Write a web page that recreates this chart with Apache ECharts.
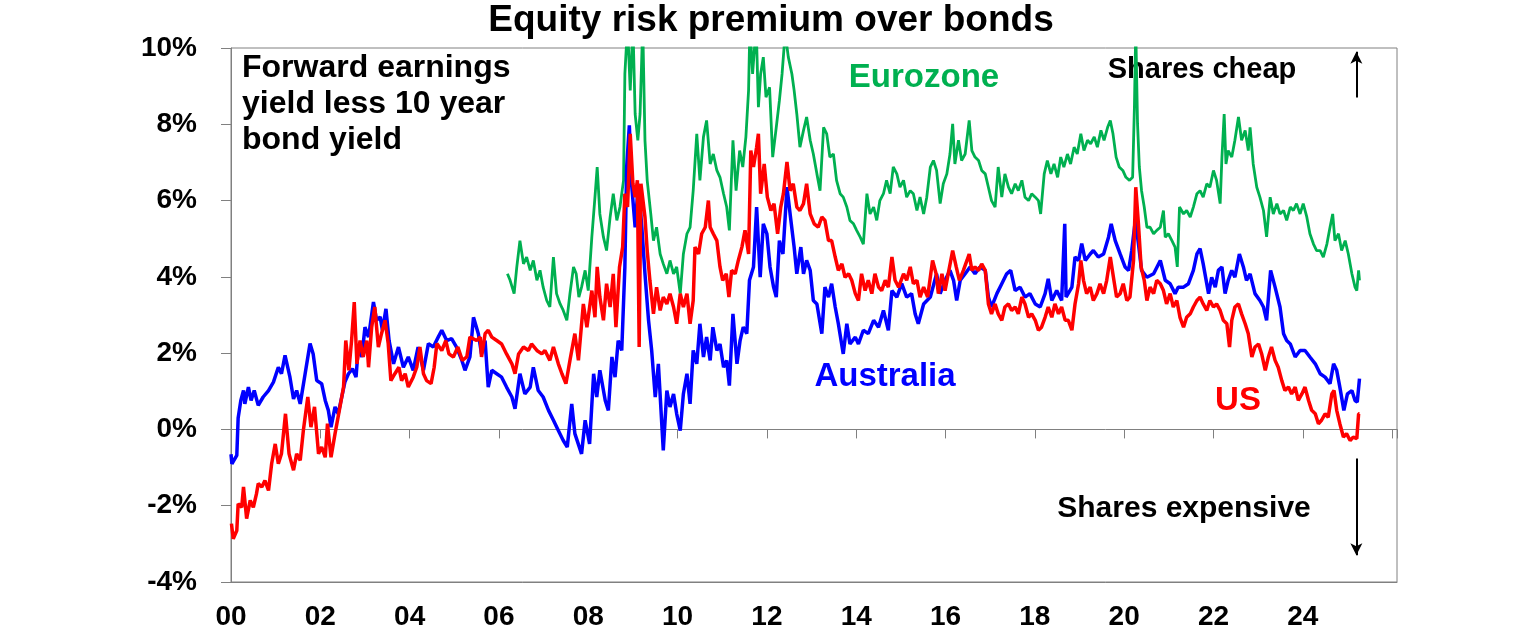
<!DOCTYPE html>
<html><head><meta charset="utf-8">
<script src="https://cdn.jsdelivr.net/npm/echarts@6/dist/echarts.min.js"></script>
<style>html,body{margin:0;padding:0;background:#fff}#c{width:1536px;height:641px}</style>
</head><body><div id="c"></div>
<script>
// ---- data ----
const xTickLabels = ['00','02','04','06','08','10','12','14','16','18','20','22','24'];
const ausYear = [2000.00,2000.02,2000.13,2000.16,2000.22,2000.28,2000.31,2000.39,2000.45,2000.52,2000.61,2000.72,2000.84,2000.95,2001.06,2001.13,2001.21,2001.32,2001.40,2001.47,2001.55,2001.66,2001.77,2001.84,2001.92,2002.03,2002.11,2002.18,2002.24,2002.33,2002.40,2002.48,2002.55,2002.63,2002.72,2002.80,2002.85,2002.93,2003.00,2003.08,2003.19,2003.26,2003.34,2003.39,2003.47,2003.54,2003.64,2003.75,2003.86,2003.97,2004.08,2004.19,2004.31,2004.42,2004.53,2004.64,2004.72,2004.83,2004.94,2005.05,2005.17,2005.24,2005.35,
2005.43,2005.54,2005.61,2005.69,2005.76,2005.84,2005.95,2006.06,2006.17,2006.29,2006.36,2006.47,2006.58,2006.70,2006.77,2006.88,2006.99,2007.11,2007.22,2007.33,2007.44,2007.53,2007.63,2007.70,2007.85,2007.93,2008.03,2008.12,2008.19,2008.26,2008.38,2008.45,2008.53,2008.60,2008.67,2008.75,2008.82,2008.86,2008.92,2008.97,2009.05,2009.12,2009.20,2009.27,2009.35,2009.42,2009.50,2009.57,2009.68,2009.76,2009.83,2009.91,2009.98,2010.06,2010.13,2010.21,
2010.28,2010.35,2010.43,2010.50,2010.58,2010.65,2010.73,2010.79,2010.88,2010.95,2011.03,2011.10,2011.16,2011.24,2011.33,2011.40,2011.47,2011.55,2011.61,2011.70,2011.77,2011.85,2011.92,2012.00,2012.07,2012.15,2012.21,2012.28,2012.36,2012.45,2012.52,2012.61,2012.67,2012.76,2012.82,2012.89,2012.97,2013.04,2013.12,2013.23,2013.30,2013.38,2013.45,2013.53,2013.60,2013.71,2013.79,2013.86,2013.98,2014.05,2014.16,2014.27,2014.39,2014.50,2014.61,2014.72,2014.80,2014.91,2015.02,2015.13,2015.24,2015.32,2015.39,2015.51,2015.66,
2015.80,2015.88,2015.99,2016.10,2016.18,2016.25,2016.33,2016.44,2016.55,2016.66,2016.77,2016.89,2016.96,2017.03,2017.15,2017.26,2017.37,2017.46,2017.56,2017.67,2017.78,2017.89,2018.01,2018.12,2018.23,2018.30,2018.38,2018.49,2018.60,2018.67,2018.70,2018.83,2018.90,2018.98,2019.05,2019.13,2019.24,2019.31,2019.42,2019.54,2019.65,2019.71,2019.80,2019.91,2020.02,2020.10,2020.17,2020.25,2020.32,2020.39,2020.51,2020.66,2020.81,
2020.84,2020.92,2021.03,2021.14,2021.21,2021.33,2021.44,2021.55,2021.63,2021.70,2021.77,2021.89,2021.96,2022.04,2022.11,2022.19,2022.26,2022.33,2022.41,2022.48,2022.58,2022.67,2022.74,2022.82,2022.93,2023.04,2023.12,2023.19,2023.28,2023.38,2023.49,2023.57,2023.64,2023.72,2023.83,2023.94,2024.05,2024.16,2024.28,2024.39,2024.50,2024.61,2024.69,2024.76,2024.83,2024.92,2025.00,2025.10,2025.17,2025.22,2025.27];
const ausVal = [-0.65,-0.90,-0.68,0.30,0.76,1.02,0.67,1.11,0.76,1.02,0.63,0.85,1.02,1.24,1.63,1.46,1.94,1.37,0.80,1.02,0.67,1.46,2.25,1.98,1.28,1.20,0.76,0.50,0.06,0.59,0.41,0.85,1.24,1.46,1.59,1.37,2.16,1.90,2.68,2.42,3.34,2.86,2.95,2.60,3.16,2.33,1.72,2.16,1.63,1.90,1.55,2.16,1.55,2.25,2.16,2.42,2.60,2.33,2.38,2.16,1.81,1.55,1.90,
2.94,2.50,1.98,2.33,1.11,1.55,1.46,1.37,1.11,0.85,0.54,1.46,0.93,1.11,1.63,1.02,0.85,0.50,0.24,-0.03,-0.29,-0.46,0.67,-0.11,-0.64,0.24,-0.38,1.46,0.85,1.55,0.76,0.50,1.90,1.37,2.33,2.07,4.26,6.88,7.97,6.44,5.30,6.44,5.30,4.08,2.86,2.07,0.85,1.72,-0.55,1.02,0.59,0.93,0.41,-0.03,0.93,1.46,
0.67,2.07,1.72,2.77,1.90,2.42,1.81,2.68,2.07,2.24,1.63,1.81,1.15,3.03,1.72,2.33,2.68,2.51,3.91,4.26,5.83,3.99,5.39,5.13,4.26,3.73,3.47,4.95,4.60,6.35,5.65,4.78,4.08,4.78,4.08,4.43,4.17,3.38,3.29,2.51,3.73,3.47,3.82,3.21,2.77,1.98,2.77,2.24,2.42,2.24,2.60,2.51,2.86,2.68,3.12,2.60,3.64,3.47,3.82,3.47,3.56,3.03,2.77,3.29,3.47,
4.08,3.56,3.91,4.17,3.91,3.38,3.91,4.08,4.26,4.08,4.26,4.17,3.47,3.21,3.56,3.82,4.08,4.17,3.64,3.73,3.47,3.56,3.29,3.21,3.56,3.95,3.38,3.64,3.38,5.39,3.47,3.73,4.52,4.43,4.87,4.43,4.60,4.69,4.52,4.60,5.04,5.39,4.95,4.60,4.26,4.17,4.69,5.48,4.87,4.17,3.99,4.08,4.43,
4.39,3.91,3.82,3.56,3.73,3.73,3.82,4.17,4.60,4.74,4.34,3.56,3.99,3.73,4.17,4.26,3.56,3.91,4.17,3.99,4.60,4.26,3.91,4.08,3.56,3.38,3.21,2.86,4.17,3.73,3.21,2.51,2.33,2.24,1.90,2.07,2.07,1.90,1.72,1.46,1.37,1.20,1.72,1.55,1.11,0.50,0.93,1.02,0.76,0.72,1.33];

const usYear = [2000.01,2000.05,2000.13,2000.16,2000.24,2000.28,2000.35,2000.43,2000.50,2000.57,2000.61,2000.69,2000.76,2000.84,2000.91,2000.99,2001.06,2001.13,2001.22,2001.30,2001.40,2001.47,2001.55,2001.62,2001.72,2001.79,2001.87,2001.96,2002.03,2002.11,2002.16,2002.24,2002.33,2002.44,2002.52,2002.57,2002.64,2002.70,2002.76,2002.82,2002.89,2002.96,2003.04,2003.08,2003.15,2003.22,2003.30,2003.37,2003.45,2003.52,2003.58,2003.67,2003.76,2003.82,2003.90,2003.97,2004.08,2004.16,2004.23,2004.31,2004.38,2004.48,2004.55,2004.61,2004.72,2004.81,2004.88,2004.98,2005.08,2005.18,2005.28,2005.35,
2005.50,2005.58,2005.61,2005.69,2005.76,2005.84,2005.95,2006.06,2006.17,2006.29,2006.36,2006.44,2006.55,2006.66,2006.73,2006.85,2006.96,2007.03,2007.14,2007.22,2007.33,2007.41,2007.50,2007.59,2007.70,2007.78,2007.89,2007.97,2008.08,2008.15,2008.20,2008.26,2008.34,2008.41,2008.49,2008.56,2008.62,2008.70,2008.77,2008.82,2008.88,2008.94,2009.00,2009.05,2009.10,2009.14,2009.18,2009.27,2009.32,2009.38,2009.46,2009.53,2009.61,2009.68,2009.76,2009.83,2009.91,2009.98,2010.06,2010.13,2010.21,
2010.28,2010.35,2010.39,2010.47,2010.54,2010.62,2010.69,2010.73,2010.80,2010.88,2010.95,2011.01,2011.09,2011.15,2011.21,2011.29,2011.36,2011.44,2011.51,2011.59,2011.64,2011.70,2011.77,2011.81,2011.86,2011.94,2012.01,2012.09,2012.16,2012.24,2012.31,2012.37,2012.45,2012.52,2012.59,2012.67,2012.74,2012.82,2012.89,2012.97,2013.06,2013.15,2013.23,2013.30,2013.38,2013.45,2013.53,2013.60,2013.68,2013.75,2013.83,2013.90,2013.98,2014.05,2014.12,2014.20,2014.27,2014.35,2014.42,2014.50,2014.57,2014.65,2014.72,2014.80,2014.87,2014.95,2015.06,2015.13,2015.21,2015.28,2015.36,2015.43,2015.51,2015.60,
2015.71,2015.79,2015.84,2015.92,2015.99,2016.06,2016.16,2016.24,2016.31,2016.40,2016.48,2016.53,2016.59,2016.66,2016.74,2016.81,2016.89,2016.96,2017.03,2017.11,2017.18,2017.26,2017.33,2017.41,2017.48,2017.56,2017.63,2017.71,2017.78,2017.86,2017.93,2018.01,2018.08,2018.15,2018.23,2018.30,2018.38,2018.45,2018.53,2018.60,2018.68,2018.75,2018.83,2018.90,2018.98,2019.03,2019.09,2019.16,2019.24,2019.31,2019.39,2019.46,2019.54,2019.61,2019.69,2019.76,2019.83,2019.91,2019.98,2020.06,2020.13,2020.21,2020.26,2020.32,2020.38,2020.45,2020.51,2020.58,2020.66,2020.73,2020.81,
2020.88,2020.95,2021.03,2021.10,2021.18,2021.25,2021.33,2021.40,2021.48,2021.55,2021.63,2021.70,2021.77,2021.85,2021.92,2022.00,2022.07,2022.15,2022.22,2022.30,2022.36,2022.41,2022.48,2022.56,2022.63,2022.71,2022.78,2022.86,2022.93,2023.01,2023.08,2023.16,2023.23,2023.30,2023.38,2023.45,2023.53,2023.60,2023.68,2023.75,2023.83,2023.90,2023.98,2024.05,2024.13,2024.20,2024.28,2024.35,2024.42,2024.50,2024.57,2024.65,2024.70,2024.76,2024.83,2024.91,2024.98,2025.06,2025.13,2025.21,2025.25,2025.27];
const usVal = [-2.47,-2.87,-2.65,-1.95,-2.04,-1.51,-2.34,-1.86,-2.04,-1.69,-1.42,-1.51,-1.34,-1.60,-0.90,-0.38,-0.90,-0.64,0.41,-0.64,-1.07,-0.64,-0.81,-0.03,0.85,0.06,0.59,-0.64,-0.46,-0.73,0.15,-0.73,-0.11,0.59,1.11,2.33,1.55,2.33,3.34,1.72,2.33,1.90,2.33,1.63,2.68,3.21,2.16,2.51,2.86,2.25,1.28,1.46,1.63,1.28,1.46,1.11,1.37,1.63,2.16,1.46,1.28,1.20,1.63,2.25,2.07,2.33,1.98,1.90,2.16,1.81,1.90,2.42,
2.33,2.42,1.90,2.51,2.60,2.42,2.33,2.24,1.98,1.72,1.46,1.98,2.16,2.07,2.24,2.07,1.98,2.07,1.81,2.16,1.72,1.46,1.20,1.81,2.51,1.81,3.29,2.68,3.64,2.94,4.26,3.47,2.86,3.82,3.21,4.08,2.68,4.26,4.78,6.18,5.83,7.75,6.44,6.09,6.53,2.16,6.44,5.57,4.69,3.91,3.03,3.73,3.12,3.47,3.29,3.56,3.21,2.77,3.56,3.21,3.56,
2.77,3.38,4.78,4.60,5.13,5.30,6.00,5.30,5.13,4.95,4.26,3.91,4.08,3.47,4.17,4.08,4.43,4.78,5.22,4.60,7.31,6.88,7.40,7.75,6.18,6.96,6.09,5.74,5.92,5.13,5.83,6.18,7.01,6.26,6.44,5.83,5.74,5.92,6.44,5.65,5.39,5.30,5.57,5.48,4.95,4.95,4.52,4.17,4.34,3.99,4.08,3.91,3.56,3.38,4.08,3.64,3.91,3.56,4.08,3.73,3.64,3.91,3.73,4.52,3.91,3.73,4.08,3.91,4.26,3.82,3.91,3.47,3.73,3.47,
4.43,4.08,3.56,4.08,3.64,4.08,4.69,4.26,3.91,4.17,4.43,4.60,4.17,4.26,4.17,4.34,4.17,3.29,3.03,3.29,3.03,2.86,3.21,3.29,3.12,3.21,3.03,3.47,3.29,2.94,3.03,2.86,2.60,2.68,2.94,3.21,2.94,3.29,3.03,3.21,2.86,2.86,2.60,3.29,3.82,4.43,3.91,3.56,3.73,3.38,3.56,3.82,3.56,3.91,4.52,3.99,3.47,3.56,3.82,3.38,3.47,4.43,6.35,5.39,4.26,3.91,3.38,3.73,3.56,3.91,3.82,
3.64,3.29,3.56,3.21,3.38,2.94,2.68,2.94,3.03,3.21,3.38,3.47,3.29,3.12,3.38,3.21,3.29,3.12,2.86,2.77,2.16,2.86,3.21,3.29,3.03,2.77,2.51,1.90,2.16,2.24,1.98,1.55,1.90,2.16,1.81,1.63,1.28,1.02,1.11,0.93,1.11,0.76,0.93,1.11,0.76,0.50,0.41,0.15,0.24,0.41,0.32,0.93,1.02,0.50,0.15,-0.20,-0.11,-0.29,-0.20,-0.24,0.41,0.41];

const euYear = [2006.19,2006.25,2006.34,2006.40,2006.47,2006.55,2006.62,2006.70,2006.77,2006.85,2006.92,2006.99,2007.07,2007.14,2007.22,2007.29,2007.37,2007.44,2007.52,2007.59,2007.67,2007.73,2007.79,2007.85,2007.93,2008.00,2008.08,2008.15,2008.20,2008.26,2008.34,2008.41,2008.49,2008.56,2008.64,2008.71,2008.79,2008.82,2008.88,2008.94,2009.00,2009.05,2009.11,2009.16,2009.22,2009.27,2009.32,2009.40,2009.46,2009.53,2009.61,2009.68,2009.76,2009.83,2009.91,2009.98,2010.06,2010.13,2010.21,2010.28,2010.35,
2010.43,2010.50,2010.58,2010.65,2010.73,2010.80,2010.88,2010.95,2011.03,2011.10,2011.16,2011.24,2011.31,2011.39,2011.46,2011.53,2011.59,2011.62,2011.68,2011.76,2011.81,2011.86,2011.92,2011.98,2012.06,2012.13,2012.21,2012.28,2012.34,2012.41,2012.48,2012.56,2012.61,2012.67,2012.74,2012.82,2012.89,2012.97,2013.04,2013.12,2013.19,2013.27,2013.34,2013.41,2013.49,2013.56,2013.64,2013.71,2013.79,2013.86,2013.94,2014.01,2014.09,2014.16,2014.24,2014.31,2014.39,2014.46,2014.53,2014.61,2014.68,2014.76,2014.83,2014.91,2014.98,2015.06,2015.13,2015.21,2015.28,2015.36,2015.43,2015.51,2015.58,2015.66,
2015.73,2015.80,2015.88,2015.95,2016.03,2016.10,2016.16,2016.21,2016.29,2016.36,2016.44,2016.53,2016.59,2016.66,2016.74,2016.81,2016.89,2016.96,2017.03,2017.11,2017.18,2017.26,2017.33,2017.41,2017.48,2017.56,2017.63,2017.71,2017.78,2017.86,2017.93,2018.01,2018.08,2018.13,2018.21,2018.28,2018.36,2018.43,2018.51,2018.58,2018.65,2018.73,2018.80,2018.88,2018.95,2019.03,2019.10,2019.18,2019.25,2019.33,2019.40,2019.48,2019.55,2019.63,2019.69,2019.75,2019.82,2019.89,2019.97,2020.04,2020.12,2020.19,2020.23,2020.26,2020.30,2020.34,2020.39,2020.45,2020.51,2020.58,2020.66,2020.73,2020.81,
2020.88,2020.92,2020.99,2021.07,2021.14,2021.19,2021.24,2021.33,2021.40,2021.48,2021.55,2021.63,2021.70,2021.77,2021.85,2021.92,2022.00,2022.07,2022.15,2022.19,2022.24,2022.28,2022.33,2022.41,2022.48,2022.56,2022.63,2022.71,2022.78,2022.82,2022.89,2022.97,2023.04,2023.12,2023.19,2023.27,2023.34,2023.42,2023.49,2023.57,2023.64,2023.72,2023.79,2023.86,2023.94,2024.01,2024.09,2024.16,2024.24,2024.31,2024.39,2024.46,2024.54,2024.61,2024.67,2024.72,2024.80,2024.87,2024.95,2025.02,2025.10,2025.17,2025.21,2025.25,2025.27];
const euVal = [4.08,3.91,3.56,4.26,4.95,4.34,4.52,4.17,4.43,3.91,4.17,3.73,3.38,3.21,4.52,3.56,3.29,3.12,2.86,3.56,4.26,4.08,3.47,3.73,4.17,3.64,5.04,6.09,6.88,5.65,5.04,4.69,5.57,6.18,5.48,5.83,6.53,9.32,10.6,8.89,10.6,8.27,7.58,8.27,10.6,7.58,6.53,5.65,4.95,5.30,4.60,4.34,4.08,4.43,4.08,4.26,3.56,4.60,5.13,5.30,6.26,
7.75,6.53,7.67,8.10,6.96,7.22,6.79,6.61,6.18,5.83,5.22,7.58,6.26,7.31,6.88,7.67,8.89,10.6,9.32,10.6,8.45,9.32,9.76,8.71,8.97,7.14,7.92,8.62,9.32,10.4,9.76,9.32,8.89,8.27,7.40,7.84,8.19,7.58,7.22,6.70,6.26,7.92,7.75,7.14,7.22,6.53,6.18,6.09,5.83,5.48,5.39,5.22,5.04,4.86,6.18,5.65,5.83,5.48,6.00,6.18,6.53,6.18,6.88,6.70,6.35,6.53,6.09,6.26,6.18,5.74,6.09,5.65,6.09,6.88,
7.05,6.79,5.92,6.44,6.70,7.22,8.01,6.96,7.58,7.05,7.22,8.10,7.31,7.14,7.05,6.79,6.70,6.35,6.00,5.83,6.88,6.09,6.70,6.35,6.18,6.44,6.26,6.53,6.09,6.00,6.18,6.09,6.00,5.65,6.70,7.05,6.70,6.96,6.61,7.14,6.88,7.22,6.96,7.40,7.22,7.75,7.31,7.58,7.49,7.67,7.40,7.84,7.58,7.92,8.10,7.75,7.14,6.88,6.79,6.61,6.53,6.61,8.45,10.5,8.01,6.88,6.26,5.83,5.30,5.30,5.13,5.22,5.30,
5.74,5.04,5.13,4.95,4.78,4.26,5.83,5.65,5.74,5.57,5.83,6.18,6.26,6.09,6.44,6.35,6.79,6.53,5.92,7.14,8.27,6.96,7.31,7.14,7.58,8.19,7.58,7.84,7.31,7.92,6.96,6.35,6.09,5.74,5.05,6.09,5.65,5.92,5.65,5.74,5.48,5.83,5.74,5.92,5.65,5.92,5.57,5.13,4.86,4.69,4.69,4.52,4.86,5.30,5.65,4.95,5.13,4.69,4.95,4.60,4.08,3.73,3.64,4.17,3.91];

const arrowYear = 2025.2;
const upArrow = [8.7, 9.9];
const downArrow = [-0.76, -3.3];

// ---- chart ----
const FONT = '"Liberation Sans", Arial, sans-serif';
const zip = (xs, ys) => xs.map((x, i) => [x, ys[i]]);
const chart = echarts.init(document.getElementById('c'), null, {renderer: 'canvas'});
const axisGray = '#808080';
const fmtYear = v => { const i = Math.round((v - 2000) / 2); return (Math.abs(v - (2000 + 2 * i)) < 1e-6 && xTickLabels[i]) ? xTickLabels[i] : ''; };

chart.setOption({
  animation: false,
  backgroundColor: '#fff',
  grid: {left: 231, right: 139, top: 48, bottom: 59, show: true, borderColor: axisGray, borderWidth: 1, containLabel: false},
  xAxis: [
    {type: 'value', min: 2000, max: 2026.11, interval: 2, position: 'bottom',
     axisLine: {show: true, onZero: false, lineStyle: {color: axisGray, width: 1}},
     axisTick: {show: false}, splitLine: {show: false},
     axisLabel: {show: true, showMaxLabel: false, margin: 21, formatter: fmtYear,
                 color: '#000', fontFamily: FONT, fontWeight: 'bold', fontSize: 28}},
    {type: 'value', min: 2000, max: 2026.11, interval: 2, position: 'bottom',
     axisLine: {show: true, onZero: true, lineStyle: {color: axisGray, width: 1}},
     axisTick: {show: true, inside: false, length: 9, lineStyle: {color: axisGray, width: 1}},
     axisLabel: {show: false}, splitLine: {show: false}}
  ],
  yAxis: {type: 'value', min: -4, max: 10, interval: 2,
    axisLine: {show: true, onZero: false, lineStyle: {color: axisGray, width: 1}},
    axisTick: {show: true, length: 10, lineStyle: {color: axisGray, width: 1}},
    splitLine: {show: false},
    axisLabel: {formatter: '{value}%', margin: 34, color: '#000', fontFamily: FONT, fontWeight: 'bold', fontSize: 28}},
  series: [
    {name: 'Eurozone', type: 'line', xAxisIndex: 0, data: zip(euYear, euVal), showSymbol: false, symbol: 'none',
     lineStyle: {color: '#00B050', width: 2.8}, itemStyle: {color: '#00B050'}, z: 2},
    {name: 'Australia', type: 'line', xAxisIndex: 0, data: zip(ausYear, ausVal), showSymbol: false, symbol: 'none',
     lineStyle: {color: '#0000FF', width: 3.5}, itemStyle: {color: '#0000FF'}, z: 3},
    {name: 'US', type: 'line', xAxisIndex: 0, data: zip(usYear, usVal), showSymbol: false, symbol: 'none',
     lineStyle: {color: '#FF0000', width: 3.5}, itemStyle: {color: '#FF0000'}, z: 4,
     markLine: {silent: true, symbol: ['none', 'arrow'], symbolSize: [9, 12], animation: false,
       label: {show: false}, lineStyle: {color: '#000', width: 2, type: 'solid'},
       data: [
         [{coord: [arrowYear, upArrow[0]]}, {coord: [arrowYear, upArrow[1]]}],
         [{coord: [arrowYear, downArrow[0]]}, {coord: [arrowYear, downArrow[1]]}]
       ]}}
  ],
  graphic: [
    {type: 'text', x: 771, y: 21, style: {text: 'Equity risk premium over bonds', font: 'bold 37px ' + FONT, fill: '#000', textAlign: 'center', textVerticalAlign: 'middle'}},
    {type: 'text', x: 242, y: 50, style: {text: 'Forward earnings\nyield less 10 year\nbond yield', font: 'bold 32px ' + FONT, lineHeight: 36, fill: '#000', textAlign: 'left', textVerticalAlign: 'top'}},
    {type: 'text', x: 924, y: 78, style: {text: 'Eurozone', font: 'bold 33px ' + FONT, fill: '#00B050', textAlign: 'center', textVerticalAlign: 'middle'}},
    {type: 'text', x: 885, y: 377, style: {text: 'Australia', font: 'bold 33px ' + FONT, fill: '#0000FF', textAlign: 'center', textVerticalAlign: 'middle'}},
    {type: 'text', x: 1238, y: 401, style: {text: 'US', font: 'bold 33px ' + FONT, fill: '#FF0000', textAlign: 'center', textVerticalAlign: 'middle'}},
    {type: 'text', x: 1202, y: 70, style: {text: 'Shares cheap', font: 'bold 29px ' + FONT, fill: '#000', textAlign: 'center', textVerticalAlign: 'middle'}},
    {type: 'text', x: 1184, y: 509, style: {text: 'Shares expensive', font: 'bold 30px ' + FONT, fill: '#000', textAlign: 'center', textVerticalAlign: 'middle'}}
  ]
});
</script>
</body></html>
